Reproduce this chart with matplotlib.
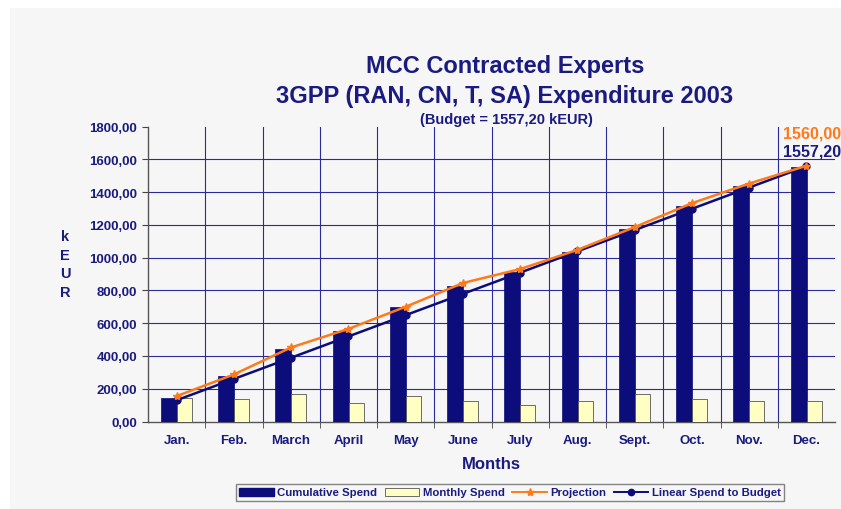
import matplotlib
matplotlib.use("Agg")
import matplotlib.pyplot as plt
from matplotlib.patches import Rectangle
from matplotlib.lines import Line2D
import numpy as np

months = ["Jan.", "Feb.", "March", "April", "May", "June", "July", "Aug.",
          "Sept.", "Oct.", "Nov.", "Dec."]
cumulative = [145, 280, 445, 550, 700, 825, 910, 1037, 1174, 1316, 1438, 1553]
monthly = [145, 139, 170, 114, 153, 125, 103, 126, 165, 140, 126, 126]
projection = [155, 287, 452, 565, 700, 845, 930, 1047, 1186, 1332, 1452, 1560]
budget = 1557.20
linear = [budget * (i + 1) / 12 for i in range(12)]
yticks = [0, 200, 400, 600, 800, 1000, 1200, 1400, 1600, 1800]

NAVY = "#0c0c7a"
TXT = "#1a1a80"
ORANGE = "#ff7a1a"
YELLOW = "#ffffc4"
BG = "#f6f6f6"
FONT = "Liberation Sans"

W, H = 841, 510
fig = plt.figure(figsize=(W / 100, H / 100), dpi=100)
fig.patch.set_facecolor("white")
fig.patches.append(Rectangle((10 / W, 0), 1 - 10 / W, 1 - 9 / H,
                             transform=fig.transFigure, facecolor=BG,
                             edgecolor="none", zorder=-10))

ax = fig.add_axes([148 / W, (H - 422.5) / H, (835 - 148) / W, (422.5 - 127.5) / H])
ax.set_facecolor(BG)
ax.patch.set_alpha(0)

x = np.arange(len(months))
ax.bar(x - 0.135, cumulative, width=0.28, color=NAVY, edgecolor=NAVY,
       linewidth=0.5, zorder=3, label="Cumulative Spend")
ax.bar(x + 0.135, monthly, width=0.26, color=YELLOW, edgecolor="#555555",
       linewidth=0.6, zorder=3, label="Monthly Spend")
ax.plot(x, linear, color=NAVY, lw=1.8, marker="o", ms=5, zorder=4,
        label="Linear Spend to Budget")
ax.plot(x, projection, color=ORANGE, lw=1.8, marker="*", ms=6, zorder=5,
        label="Projection")

ax.set_xlim(-0.5, 11.5)
ax.set_ylim(0, 1800)
ax.set_yticks(yticks)
ax.set_yticklabels([f"{v:.2f}".replace(".", ",") for v in yticks],
                   fontsize=9.5, fontweight="bold", color=TXT, family=FONT)
ax.set_xticks(x)
ax.set_xticklabels(months, fontsize=9.5, fontweight="bold", color=TXT, family=FONT)
ax.set_xticks(np.arange(0.5, 11.5, 1), minor=True)
ax.tick_params(axis="x", which="major", length=0, pad=9)
ax.tick_params(axis="x", which="minor", length=4, color="#444444", direction="out")
ax.tick_params(axis="y", length=4, color="#444444", pad=4)

ax.grid(True, axis="x", which="minor", color="#2a2a9a", lw=0.8, zorder=1)
ax.grid(True, axis="y", which="major", color="#2a2a9a", lw=0.8, zorder=1)
ax.get_ygridlines()[-1].set_visible(False)
ax.get_ygridlines()[0].set_visible(False)

for s in ["top", "right"]:
    ax.spines[s].set_visible(False)
for s in ["left", "bottom"]:
    ax.spines[s].set_color("#555555")
    ax.spines[s].set_linewidth(1.0)

ax.set_xlabel("Months", fontsize=12, fontweight="bold", color=TXT, family=FONT,
              labelpad=7)

fig.text(65 / W, 1 - 265 / H, "k\nE\nU\nR", ha="center", va="center",
         fontsize=10.5, fontweight="bold", color=TXT, family=FONT, linespacing=1.45)

fig.text(505 / W, 1 - 67 / H, "MCC Contracted Experts", ha="center", va="center",
         fontsize=17, fontweight="bold", color=TXT, family=FONT)
fig.text(505 / W, 1 - 97 / H, "3GPP (RAN, CN, T, SA) Expenditure 2003", ha="center",
         va="center", fontsize=17, fontweight="bold", color=TXT, family=FONT)
fig.text(506 / W, 1 - 120 / H, "(Budget = 1557,20 kEUR)", ha="center", va="center",
         fontsize=10.5, fontweight="bold", color=TXT, family=FONT)

fig.text(841 / W, 1 - 134 / H, f"{projection[-1]:.2f}".replace(".", ","), ha="right",
         va="center", fontsize=11.5, fontweight="bold", color=ORANGE, family=FONT)
fig.text(841 / W, 1 - 152 / H, f"{budget:.2f}".replace(".", ","), ha="right",
         va="center", fontsize=11.5, fontweight="bold", color=TXT, family=FONT)

handles = [
    Rectangle((0, 0), 1, 1, facecolor=NAVY, edgecolor=NAVY),
    Rectangle((0, 0), 1, 1, facecolor=YELLOW, edgecolor="#555555", lw=0.6),
    Line2D([], [], color=ORANGE, lw=1.4, marker="*", ms=6),
    Line2D([], [], color=NAVY, lw=1.4, marker="o", ms=4.5),
]
labels = ["Cumulative Spend", "Monthly Spend", "Projection", "Linear Spend to Budget"]
leg = fig.legend(handles, labels, loc="center", bbox_to_anchor=(510 / W, 1 - 493.5 / H),
                 ncol=4, frameon=True, fancybox=False,
                 handlelength=3.0, handletextpad=0.3, columnspacing=0.7,
                 borderpad=0.3, prop={"family": FONT, "weight": "bold", "size": 8.2})
leg.get_frame().set_edgecolor("#666666")
leg.get_frame().set_facecolor(BG)
leg.get_frame().set_linewidth(1.0)
for t in leg.get_texts():
    t.set_color(TXT)

fig.savefig("out.png", dpi=100, facecolor=fig.get_facecolor())
